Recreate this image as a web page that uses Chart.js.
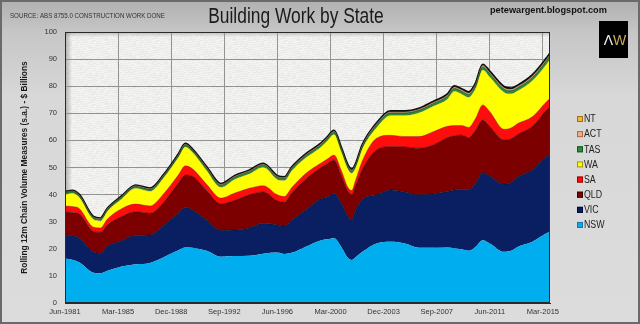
<!DOCTYPE html>
<html>
<head>
<meta charset="utf-8">
<script src="https://cdn.jsdelivr.net/npm/chart.js@4.4.1/dist/chart.umd.min.js"></script>
<style>
  html, body { margin: 0; padding: 0; background: #d9d9d9; }
  canvas { display: block; }
</style>
</head>
<body>
<canvas id="chart" width="640" height="324"></canvas>
<script>
/* Data - quarters counted from Jun-1981, $ billions (rolling 12m, chain volume) */
const quarterIdx = [0, 2, 4, 8, 10, 12, 16, 20, 24, 28, 32, 34, 36, 40, 44, 48, 52, 56, 60, 62, 64, 68,
  72, 74, 76, 78, 80, 81, 82, 84, 88, 92, 96, 100, 104, 108, 110, 112, 114, 116, 118, 120, 124, 126, 128, 132, 136, 137];

const nsw = [16.4, 16.0, 15.0, 11.2, 11.0, 11.9, 13.5, 14.3, 14.8, 17.0, 19.5, 20.5, 20.4, 19.3, 17.1, 17.3, 17.4, 18.2, 18.6, 18.1, 18.5, 20.8,
  23.0, 23.5, 23.9, 20.8, 16.5, 15.9, 16.8, 18.9, 22.0, 22.6, 22.0, 20.4, 20.4, 20.5, 20.2, 19.8, 19.3, 20.8, 23.2, 22.0, 18.9, 19.3, 20.8, 22.6, 25.7, 26.3];
const vic = [8.7, 8.8, 9.0, 7.7, 7.3, 9.1, 9.5, 10.7, 10.3, 11.8, 13.6, 14.8, 13.9, 11.3, 9.7, 9.6, 10.3, 11.2, 10.2, 10.3, 12.0, 13.5,
  15.3, 15.5, 16.6, 16.2, 15.3, 14.7, 17.2, 19.3, 17.9, 19.1, 19.0, 19.5, 19.8, 20.6, 21.5, 22.2, 22.6, 23.4, 24.9, 24.9, 25.0, 25.2, 25.8, 26.5, 28.3, 28.3];
const qld = [8.5, 8.6, 8.9, 7.5, 7.8, 7.8, 8.9, 8.7, 8.0, 8.6, 11.1, 11.9, 12.5, 10.9, 9.8, 11.0, 12.2, 11.6, 8.9, 8.8, 10.0, 11.4,
  11.4, 12.3, 12.3, 10.2, 9.3, 9.3, 9.0, 11.2, 16.6, 16.0, 16.6, 17.2, 18.1, 19.9, 20.0, 20.0, 19.1, 19.6, 19.4, 18.2, 16.2, 16.1, 15.7, 16.0, 17.2, 17.8];
const sa = [2.2, 2.2, 2.0, 1.6, 1.6, 2.2, 2.9, 2.8, 2.7, 3.1, 3.0, 3.4, 2.7, 2.3, 2.1, 2.7, 2.4, 2.3, 2.2, 2.1, 2.0, 2.1,
  1.7, 1.7, 1.8, 1.9, 1.4, 1.6, 2.0, 3.1, 4.3, 4.2, 3.8, 4.3, 4.9, 4.2, 3.8, 3.5, 3.8, 4.4, 5.6, 5.5, 4.0, 4.0, 4.0, 3.6, 3.1, 3.1];
const wa = [4.2, 4.9, 4.1, 2.9, 2.6, 2.9, 3.6, 5.8, 5.4, 5.9, 6.5, 7.0, 6.1, 5.1, 4.0, 5.1, 5.3, 6.8, 5.7, 5.9, 6.2, 5.8,
  5.8, 6.7, 7.6, 6.9, 6.7, 6.4, 4.6, 4.4, 3.9, 7.3, 7.8, 8.8, 9.4, 10.0, 12.6, 11.6, 11.1, 11.0, 12.9, 12.8, 13.7, 12.6, 12.1, 13.3, 13.8, 14.4];
const tas = [0.60, 0.62, 0.60, 0.58, 0.58, 0.60, 0.60, 0.65, 0.65, 0.65, 0.66, 0.70, 0.68, 0.75, 0.74, 0.74, 0.75, 0.76, 0.75, 0.75, 0.75, 0.76,
  0.80, 0.80, 0.82, 0.80, 0.80, 0.80, 0.80, 0.80, 0.90, 0.90, 0.90, 0.90, 0.95, 1.00, 1.05, 1.05, 1.05, 1.05, 1.10, 1.10, 1.10, 1.10, 1.10, 1.15, 1.20, 1.20];
const act = [0.25, 0.25, 0.25, 0.25, 0.25, 0.25, 0.25, 0.28, 0.28, 0.28, 0.28, 0.30, 0.28, 0.33, 0.33, 0.33, 0.33, 0.33, 0.33, 0.33, 0.33, 0.33,
  0.35, 0.35, 0.35, 0.35, 0.35, 0.35, 0.35, 0.35, 0.42, 0.42, 0.42, 0.42, 0.45, 0.47, 0.50, 0.50, 0.50, 0.50, 0.53, 0.53, 0.53, 0.53, 0.53, 0.56, 0.58, 0.58];
const nt = [0.15, 0.15, 0.15, 0.15, 0.15, 0.15, 0.15, 0.17, 0.17, 0.17, 0.17, 0.20, 0.17, 0.22, 0.22, 0.22, 0.22, 0.22, 0.22, 0.22, 0.22, 0.22,
  0.25, 0.25, 0.25, 0.25, 0.25, 0.25, 0.25, 0.25, 0.28, 0.28, 0.28, 0.28, 0.30, 0.33, 0.35, 0.35, 0.35, 0.35, 0.37, 0.37, 0.37, 0.37, 0.37, 0.39, 0.42, 0.42];

const states = ['NSW', 'VIC', 'QLD', 'SA', 'WA', 'TAS', 'ACT', 'NT'];
const tickLabels = ['Jun-1981', 'Mar-1985', 'Dec-1988', 'Sep-1992', 'Jun-1996', 'Mar-2000', 'Dec-2003', 'Sep-2007', 'Jun-2011', 'Mar-2015'];
const tickStep = 15;   // quarters between labels
const lastQuarter = 137;

/* Styles */
const seriesList = [nsw, vic, qld, sa, wa, tas, act, nt];
const fills = ['#00aeef', '#0a1f62', '#7c0000', '#ff0d0d', '#ffff00', '#2f8a3c', '#f2ae86', '#eeb63c'];
const edges = ['rgba(0,0,0,0)', 'rgba(0,0,0,0.55)', 'rgba(0,0,0,0.45)', 'rgba(90,0,0,0.5)', 'rgba(0,0,0,0.25)', '#1d4d22', '#8a6a50', '#0d0d0d'];
const edgeWidth = [0, 0.8, 0.8, 0.6, 0.5, 0.8, 0.5, 2.2];
const legendEdges = ['#1778a8', '#000a30', '#3c0000', '#9a0000', '#a09a00', '#145a22', '#b06a40', '#a07010'];

const sans = "'Liberation Sans', Arial, sans-serif";

/* textured plot background */
function speckleTile() {
    const c = document.createElement('canvas');
    c.width = c.height = 64;
    const t = c.getContext('2d');
    const img = t.createImageData(64, 64);
    for (let i = 0; i < 64 * 64; i++) {
        const h = Math.imul(i ^ 0x5bd1e995, 2654435761) >>> 0;
        const v = 231 + ((h >>> 20) % 17);
        img.data[i * 4] = v;
        img.data[i * 4 + 1] = v;
        img.data[i * 4 + 2] = v - 2;
        img.data[i * 4 + 3] = 255;
    }
    t.putImageData(img, 0, 0);
    return c;
}

// draw text squeezed horizontally (no narrow font installed)
function narrowText(ctx, text, x, y, sx) {
    ctx.save();
    ctx.translate(x, y);
    ctx.scale(sx, 1);
    ctx.fillText(text, 0, 0);
    ctx.restore();
}

const decor = {
    id: 'decor',
    beforeDraw(chart) {
        const {ctx, width, height, chartArea: a} = chart;
        ctx.save();
        const g = ctx.createLinearGradient(0, 0, 0, height);
        g.addColorStop(0, '#b0b0b0');
        g.addColorStop(0.1, '#c6c6c6');
        g.addColorStop(0.3, '#d8d8d8');
        g.addColorStop(1, '#dcdcdc');
        ctx.fillStyle = g;
        ctx.fillRect(0, 0, width, height);

        ctx.fillStyle = ctx.createPattern(speckleTile(), 'repeat');
        ctx.fillRect(a.left, a.top, a.right - a.left, a.bottom - a.top);

        // soft inner shadow on the left and top of the plot
        const sl = ctx.createLinearGradient(a.left, 0, a.left + 7, 0);
        sl.addColorStop(0, 'rgba(90,90,90,0.45)');
        sl.addColorStop(1, 'rgba(90,90,90,0)');
        ctx.fillStyle = sl;
        ctx.fillRect(a.left, a.top, 7, a.bottom - a.top);
        const st = ctx.createLinearGradient(0, a.top, 0, a.top + 5);
        st.addColorStop(0, 'rgba(90,90,90,0.35)');
        st.addColorStop(1, 'rgba(90,90,90,0)');
        ctx.fillStyle = st;
        ctx.fillRect(a.left, a.top, a.right - a.left, 5);
        ctx.restore();
    },
    afterDatasetsDraw(chart) {
        const {ctx, chartArea: a} = chart;
        ctx.save();
        ctx.strokeStyle = '#2a2a2a';
        ctx.lineWidth = 1;
        ctx.strokeRect(a.left + 0.5, a.top + 0.5, a.right - a.left - 1, a.bottom - a.top - 1);
        ctx.restore();
    },
    afterDraw(chart) {
        const {ctx, width, height} = chart;
        ctx.save();
        // frame
        ctx.strokeStyle = '#6a6a6a';
        ctx.lineWidth = 2;
        ctx.strokeRect(1, 1, width - 2, height - 2);

        ctx.textBaseline = 'alphabetic';
        ctx.fillStyle = '#1a1a1a';
        ctx.textAlign = 'center';
        ctx.font = '22px ' + sans;
        narrowText(ctx, 'Building Work by State', 296, 23, 0.79);

        ctx.textAlign = 'left';
        ctx.fillStyle = '#333';
        ctx.font = '7.2px ' + sans;
        narrowText(ctx, 'SOURCE: ABS 8755.0 CONSTRUCTION WORK DONE', 10, 18, 0.86);

        ctx.fillStyle = '#111';
        ctx.font = 'bold 9.2px ' + sans;
        ctx.fillText('petewargent.blogspot.com', 490, 13);

        // logo
        ctx.fillStyle = '#000';
        ctx.fillRect(599, 21, 29, 37);
        ctx.font = '14px ' + sans;
        ctx.textAlign = 'right';
        ctx.fillStyle = '#f2f2f2';
        ctx.fillText('\u039B', 613, 45);
        ctx.textAlign = 'left';
        ctx.fillStyle = '#c9ab5a';
        ctx.fillText('W', 613, 45);

        // legend, top item is the last series
        ctx.font = '10px ' + sans;
        ctx.textBaseline = 'middle';
        for (let k = 0; k < states.length; k++) {
            const i = states.length - 1 - k;
            const y = 119 + k * 15.14;
            ctx.fillStyle = fills[i];
            ctx.fillRect(577, y - 3, 6, 6);
            ctx.strokeStyle = legendEdges[i];
            ctx.lineWidth = 1;
            ctx.strokeRect(577.5, y - 2.5, 5, 5);
            ctx.fillStyle = '#222';
            narrowText(ctx, states[i], 584, y + 0.5, 0.88);
        }
        ctx.restore();
    }
};

const datasets = states.map((name, i) => ({
    label: name,
    data: quarterIdx.map((q, j) => ({x: q, y: seriesList[i][j]})),
    backgroundColor: fills[i],
    borderColor: edges[i],
    borderWidth: edgeWidth[i],
    fill: i === 0 ? 'origin' : '-1',
    pointRadius: 0,
    cubicInterpolationMode: 'monotone'
}));

const ctx = document.getElementById('chart');
const chart = new Chart(ctx, {
    type: 'line',
    data: {datasets: datasets},
    options: {
        responsive: false,
        animation: false,
        devicePixelRatio: 1,
        layout: {padding: {left: 0, top: 32, right: 90, bottom: 0}},
        plugins: {
            legend: {display: false},
            tooltip: {enabled: false}
        },
        scales: {
            x: {
                type: 'linear',
                min: 0,
                max: lastQuarter,
                afterBuildTicks: axis => {
                    axis.ticks = tickLabels.map((t, i) => ({value: i * tickStep}));
                },
                afterFit: axis => { axis.height = 21; },
                ticks: {
                    callback: (v, i) => tickLabels[i],
                    autoSkip: false,
                    maxRotation: 0,
                    padding: 4,
                    color: '#333',
                    font: {family: sans, size: 7.5}
                },
                grid: {color: '#939393', lineWidth: 1, drawTicks: false},
                border: {display: true, color: '#2a2a2a'}
            },
            y: {
                stacked: true,
                min: 0,
                max: 100,
                afterFit: axis => { axis.width = 65; },
                ticks: {
                    stepSize: 10,
                    padding: 8,
                    color: '#333',
                    font: {family: sans, size: 7.5}
                },
                grid: {color: '#939393', lineWidth: 1, drawTicks: false},
                border: {display: true, color: '#2a2a2a'},
                title: {
                    display: true,
                    text: 'Rolling 12m Chain Volume Measures (s.a.) - $ Billions',
                    color: '#1a1a1a',
                    font: {family: sans, size: 8.4, weight: 'bold'},
                    padding: {top: 20, bottom: 0}
                }
            }
        }
    },
    plugins: [decor]
});
</script>
</body>
</html>
